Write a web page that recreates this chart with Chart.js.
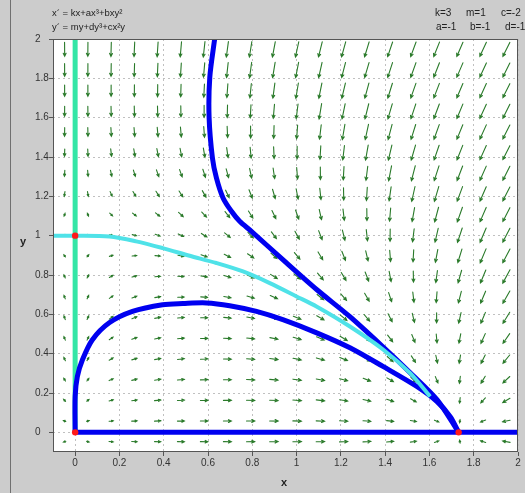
<!DOCTYPE html>
<html>
<head>
<meta charset="utf-8">
<script src="https://cdn.jsdelivr.net/npm/chart.js@4.4.1/dist/chart.umd.min.js"></script>
<style>
  html, body { margin: 0; padding: 0; background: #cccccc; }
  #wrap { position: relative; width: 525px; height: 493px; overflow: hidden; background: #cccccc; }
  #c { position: absolute; left: 0; top: 0; }
  .t { position: absolute; font-family: "Liberation Sans", Arial, sans-serif; font-size: 10px; line-height: 12px; color: #222; white-space: nowrap; }
  .h { font-size: 9.5px; }
  .b { font-weight: bold; font-size: 11px; color: #222; }
  #edge { position: absolute; left: 10px; top: 0; width: 1px; height: 493px; background: #707070; }
</style>
</head>
<body>
<div id="wrap">
  <div id="edge"></div>
  <canvas id="c" width="525" height="493"></canvas>
  <div class="t h" style="left:52px;top:7px">x´ = kx+ax³+bxy²</div>
  <div class="t h" style="left:52px;top:21px">y´ = my+dy³+cx²y</div>
  <div class="t" style="left:435px;top:7px">k=3</div>
  <div class="t" style="left:466px;top:7px">m=1</div>
  <div class="t" style="left:501px;top:7px">c=-2</div>
  <div class="t" style="left:436px;top:21px">a=-1</div>
  <div class="t" style="left:470px;top:21px">b=-1</div>
  <div class="t" style="left:505px;top:21px">d=-1</div>
  <div class="t b" style="left:281px;top:476px">x</div>
  <div class="t b" style="left:20px;top:235px">y</div>
</div>
<script>
// ---- model parameters (as printed on the chart) ----
const paramK = 3, paramM = 1, paramC = -2, paramA = -1, paramB = -1, paramD = -1;

// ---- axis ticks ----
const xTicks = [0, 0.2, 0.4, 0.6, 0.8, 1, 1.2, 1.4, 1.6, 1.8, 2];
const yTicks = [0, 0.2, 0.4, 0.6, 0.8, 1, 1.2, 1.4, 1.6, 1.8, 2];

// ---- direction-field sample positions ----
const fieldX = [-0.0475, 0.0575, 0.1625, 0.2675, 0.3725, 0.4775, 0.5825, 0.6875, 0.7925, 0.8975,
                1.0025, 1.1075, 1.2125, 1.3175, 1.4225, 1.5275, 1.6325, 1.7375, 1.8425, 1.9475];
const fieldY = [-0.0475, 0.0575, 0.1625, 0.2675, 0.3725, 0.4775, 0.5825, 0.6875, 0.7925, 0.8975,
                1.0025, 1.1075, 1.2125, 1.3175, 1.4225, 1.5275, 1.6325, 1.7375, 1.8425, 1.9475];

// ---- equilibria (red dots) ----
const eqX = [0, 0, 1.732];
const eqY = [0, 1, 0];

// ---- trajectories ----
const trajAX = [0.63, 0.608, 0.605, 0.620, 0.638, 0.668, 0.706, 0.743, 0.796, 0.938, 1.092, 1.241, 1.39, 1.513, 1.635, 1.732];
const trajAY = [2.0, 1.804, 1.60, 1.395, 1.294, 1.192, 1.124, 1.073, 1.022, 0.878, 0.725, 0.588, 0.435, 0.303, 0.165, 0];

const trajBX = [0, 0, 0.010, 0.033, 0.078, 0.154, 0.259, 0.395, 0.487, 0.593, 0.698, 0.819, 0.938, 1.091, 1.241, 1.39, 1.543, 1.633, 1.694, 1.732];
const trajBY = [0, 0.182, 0.284, 0.369, 0.471, 0.557, 0.615, 0.649, 0.655, 0.658, 0.644, 0.615, 0.573, 0.506, 0.430, 0.335, 0.233, 0.157, 0.080, 0];

const trajCX = [-0.1, 0, 0.155, 0.276, 0.395, 0.517, 0.638, 0.758, 0.879, 1.0, 1.09, 1.241, 1.392, 1.513, 1.603];
const trajCY = [1.0, 1.0, 0.996, 0.971, 0.937, 0.898, 0.861, 0.818, 0.759, 0.691, 0.640, 0.538, 0.42, 0.301, 0.182];

const axisLineX = [0, 1.732, 2];
const axisLineY = [0, 0, 0];

const yAxisLineX = [0, 0];
const yAxisLineY = [0, 2];

function pts(xs, ys) { return xs.map((v, i) => ({ x: v, y: ys[i] })); }

function field(x, y) {
  return [paramK * x + paramA * x * x * x + paramB * x * y * y,
          paramM * y + paramD * y * y * y + paramC * x * x * y];
}

const bgPlugin = {
  id: 'bg',
  beforeDraw(chart) {
    const { ctx, chartArea: a } = chart;
    ctx.save();
    ctx.fillStyle = '#ffffff';
    ctx.fillRect(a.left, a.top, a.right - a.left, a.bottom - a.top);
    ctx.restore();
  }
};

const fieldPlugin = {
  id: 'field',
  beforeDatasetsDraw(chart) {
    const { ctx, chartArea: a, scales } = chart;
    const sx = scales.x, sy = scales.y;
    const kx = sx.getPixelForValue(1) - sx.getPixelForValue(0);
    const ky = sy.getPixelForValue(1) - sy.getPixelForValue(0);
    ctx.save();
    ctx.beginPath();
    ctx.rect(a.left, a.top, a.right - a.left, a.bottom - a.top);
    ctx.clip();
    ctx.strokeStyle = '#2a7a2a';
    ctx.lineWidth = 1.1;
    ctx.lineCap = 'round';
    for (const fx of fieldX) {
      for (const fy of fieldY) {
        const v = field(fx, fy);
        const mag = Math.hypot(v[0], v[1]);
        const dxp = v[0] * kx, dyp = v[1] * ky;
        const n = Math.hypot(dxp, dyp) || 1;
        const ux = dxp / n, uy = dyp / n;
        const len = Math.max(2.5, Math.min(15.5, 6 * Math.sqrt(mag)));
        const cx = sx.getPixelForValue(fx), cy = sy.getPixelForValue(fy);
        const tx = cx - ux * len / 2, ty = cy - uy * len / 2;
        const hx = cx + ux * len / 2, hy = cy + uy * len / 2;
        const h = Math.min(3.3, Math.max(1.8, len * 0.4));
        const ang = 0.45;
        const bx = -ux, by = -uy;
        const c1 = Math.cos(ang), s1 = Math.sin(ang);
        const b1x = bx * c1 - by * s1, b1y = bx * s1 + by * c1;
        const b2x = bx * c1 + by * s1, b2y = -bx * s1 + by * c1;
        ctx.beginPath();
        ctx.moveTo(tx, ty);
        ctx.lineTo(hx, hy);
        ctx.moveTo(hx + b1x * h, hy + b1y * h);
        ctx.lineTo(hx, hy);
        ctx.lineTo(hx + b2x * h, hy + b2y * h);
        ctx.stroke();
      }
    }
    ctx.restore();
  }
};

const framePlugin = {
  id: 'frame',
  afterDatasetsDraw(chart) {
    const { ctx, chartArea: a } = chart;
    ctx.save();
    ctx.strokeStyle = '#555555';
    ctx.lineWidth = 1;
    ctx.strokeRect(Math.round(a.left) + 0.5, Math.round(a.top) + 0.5,
                   Math.round(a.right - a.left) - 1, Math.round(a.bottom - a.top) - 1);
    ctx.restore();
  }
};

const fmt = v => String(Math.round(v * 10) / 10);

const tickFont = { family: '"Liberation Sans", Arial, sans-serif', size: 10 };

new Chart(document.getElementById('c'), {
  type: 'scatter',
  data: {
    datasets: [
      { label: 'equilibria', data: pts(eqX, eqY), showLine: false, pointRadius: 3.2,
        pointBackgroundColor: '#ff1a1a', pointBorderWidth: 0, order: 0 },
      { label: 'separatrix', data: pts(trajCX, trajCY), showLine: true, borderColor: '#4fe2e8',
        borderWidth: 4, pointRadius: 0, tension: 0.3, clip: 0, order: 1 },
      { label: 'trajectory A', data: pts(trajAX, trajAY), showLine: true, borderColor: '#0000f0',
        borderWidth: 5, pointRadius: 0, tension: 0.3, clip: 0, order: 2 },
      { label: 'trajectory B', data: pts(trajBX, trajBY), showLine: true, borderColor: '#0000f0',
        borderWidth: 5, pointRadius: 0, tension: 0.3, clip: 0, order: 2 },
      { label: 'x-axis orbit', data: pts(axisLineX, axisLineY), showLine: true, borderColor: '#0000f0',
        borderWidth: 5, pointRadius: 0, clip: 0, order: 2 },
      { label: 'y-axis orbit', data: pts(yAxisLineX, yAxisLineY), showLine: true, borderColor: '#34e6a6',
        borderWidth: 5, pointRadius: 0, clip: 0, order: 3 }
    ]
  },
  options: {
    responsive: false,
    animation: false,
    devicePixelRatio: 1,
    events: [],
    layout: { padding: { top: 39, right: 7, left: 35, bottom: 0 } },
    plugins: { legend: { display: false }, tooltip: { enabled: false } },
    scales: {
      x: {
        type: 'linear', min: -0.1, max: 2,
        afterBuildTicks: s => { s.ticks = xTicks.map(v => ({ value: v })); },
        afterFit: s => { s.height = 41; },
        ticks: { callback: v => fmt(v), font: tickFont, color: '#333', padding: 1, maxRotation: 0, autoSkip: false },
        grid: { color: '#c0c0c0', tickColor: '#555', tickLength: 4, tickBorderDash: [], lineWidth: 1 },
        border: { display: false, dash: [2, 3] }
      },
      y: {
        type: 'linear', min: -0.1, max: 2,
        afterBuildTicks: s => { s.ticks = yTicks.map(v => ({ value: v })); },
        afterFit: s => { s.width = 18; },
        ticks: { callback: v => fmt(v), font: tickFont, color: '#333', padding: 2, crossAlign: 'far', autoSkip: false },
        grid: { color: '#c0c0c0', tickColor: '#555', tickLength: 4, tickBorderDash: [], lineWidth: 1 },
        border: { display: false, dash: [2, 3] }
      }
    }
  },
  plugins: [bgPlugin, fieldPlugin, framePlugin]
});
</script>
</body>
</html>
